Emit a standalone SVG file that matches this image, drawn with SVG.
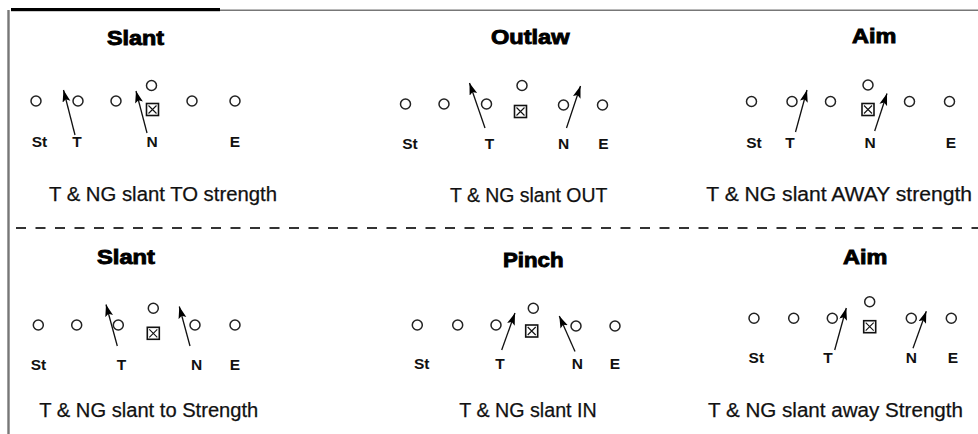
<svg xmlns="http://www.w3.org/2000/svg" width="978" height="434" viewBox="0 0 978 434">
  <style>
    .title { font-family: "Liberation Sans", Arial, sans-serif; font-weight: bold; font-size: 20px; fill: #000; stroke: #000; stroke-width: 0.9; }
    .pos { font-family: "Liberation Sans", Arial, sans-serif; font-weight: bold; font-size: 15.5px; fill: #111; text-anchor: middle; }
    .cap { font-family: "Liberation Sans", Arial, sans-serif; font-size: 20px; fill: #111; stroke: #111; stroke-width: 0.25; }
    .man { fill: #fff; stroke: #222; stroke-width: 1.5; }
    .ctr { fill: #fff; stroke: #111; stroke-width: 1.6; }
    .ctrx { stroke: #111; stroke-width: 1.1; }
    .move { fill: none; stroke: #111; stroke-width: 1.3; marker-end: url(#head); }
  </style>
  <defs>
    <marker id="head" markerUnits="userSpaceOnUse" markerWidth="13" markerHeight="9" refX="12" refY="4" orient="auto">
      <path d="M0,0 L12,4 L0,8 L2.5,4 z" fill="#000"/>
    </marker>
    <circle id="o" r="5" class="man"/>
    <g id="box">
      <rect x="-6" y="-6" width="12" height="12" class="ctr"/>
      <path d="M-4,-4 L4,4 M4,-4 L-4,4" class="ctrx"/>
    </g>
  </defs>

  <!-- page frame -->
  <g id="frame">
    <line x1="220" y1="10.3" x2="978" y2="10.3" stroke="#777" stroke-width="1.6"/>
    <line x1="8.5" y1="10" x2="8.5" y2="434" stroke="#777" stroke-width="2.4"/>
    <rect x="11" y="8" width="209" height="3.2" fill="#000"/>
    <line x1="16" y1="228" x2="978" y2="228" stroke="#333" stroke-width="2" stroke-dasharray="10 9.5"/>
  </g>

  <!-- top-left: Slant -->
  <g id="slant-top">
    <text class="title" x="107" y="44.5" textLength="57" lengthAdjust="spacingAndGlyphs">Slant</text>
    <g id="slant-top-line">
      <use href="#o" x="36" y="101"/>
      <use href="#o" x="78" y="101"/>
      <use href="#o" x="116" y="101"/>
      <use href="#o" x="151.5" y="85.5"/>
      <use href="#box" x="152.5" y="109.5"/>
      <use href="#o" x="192" y="101"/>
      <use href="#o" x="235" y="101"/>
    </g>
    <text class="pos" x="39.5" y="147">St</text>
    <text class="pos" x="77" y="147">T</text>
    <text class="pos" x="152" y="147">N</text>
    <text class="pos" x="235" y="147">E</text>
    <text class="cap" x="49" y="201" textLength="228" lengthAdjust="spacingAndGlyphs">T &amp; NG slant TO strength</text>
  </g>

  <!-- top-middle: Outlaw -->
  <g id="outlaw">
    <text class="title" x="491" y="43.5" textLength="78.5" lengthAdjust="spacingAndGlyphs">Outlaw</text>
    <g id="outlaw-line">
      <use href="#o" x="405.5" y="104"/>
      <use href="#o" x="444" y="104"/>
      <use href="#o" x="486.5" y="104"/>
      <use href="#o" x="522" y="85.5"/>
      <use href="#box" x="520.5" y="111.5"/>
      <use href="#o" x="563.5" y="105"/>
      <use href="#o" x="602.5" y="105"/>
    </g>
    <text class="pos" x="410" y="148.5">St</text>
    <text class="pos" x="489.5" y="148.5">T</text>
    <text class="pos" x="563.5" y="148.5">N</text>
    <text class="pos" x="603.5" y="148.5">E</text>
    <text class="cap" x="450" y="201.5" textLength="157.3" lengthAdjust="spacingAndGlyphs">T &amp; NG slant OUT</text>
  </g>

  <!-- top-right: Aim -->
  <g id="aim-top">
    <text class="title" x="852" y="43" textLength="44.3" lengthAdjust="spacingAndGlyphs">Aim</text>
    <g id="aim-top-line">
      <use href="#o" x="751.5" y="101.5"/>
      <use href="#o" x="792" y="101.5"/>
      <use href="#o" x="830.5" y="101.5"/>
      <use href="#o" x="868" y="85"/>
      <use href="#box" x="868" y="109.5"/>
      <use href="#o" x="909.5" y="101.5"/>
      <use href="#o" x="949.5" y="101.5"/>
    </g>
    <text class="pos" x="754" y="147.5">St</text>
    <text class="pos" x="790" y="147.5">T</text>
    <text class="pos" x="870" y="147.5">N</text>
    <text class="pos" x="951" y="147.5">E</text>
    <text class="cap" x="706.3" y="201" textLength="265.7" lengthAdjust="spacingAndGlyphs">T &amp; NG slant AWAY strength</text>
  </g>

  <!-- bottom-left: Slant -->
  <g id="slant-bottom">
    <text class="title" x="97" y="264.3" textLength="58" lengthAdjust="spacingAndGlyphs">Slant</text>
    <g id="slant-bottom-line">
      <use href="#o" x="38.3" y="325"/>
      <use href="#o" x="76.7" y="325"/>
      <use href="#o" x="118.3" y="325"/>
      <use href="#o" x="153.3" y="308.3"/>
      <use href="#box" x="153.3" y="333.3"/>
      <use href="#o" x="195" y="325"/>
      <use href="#o" x="235" y="325"/>
    </g>
    <text class="pos" x="38.5" y="369.5">St</text>
    <text class="pos" x="121.5" y="369.5">T</text>
    <text class="pos" x="196.5" y="369.5">N</text>
    <text class="pos" x="235" y="369.5">E</text>
    <text class="cap" x="39.3" y="416.7" textLength="219" lengthAdjust="spacingAndGlyphs">T &amp; NG slant to Strength</text>
  </g>

  <!-- bottom-middle: Pinch -->
  <g id="pinch">
    <text class="title" x="503" y="266.5" textLength="60.5" lengthAdjust="spacingAndGlyphs">Pinch</text>
    <g id="pinch-line">
      <use href="#o" x="417.3" y="325"/>
      <use href="#o" x="457.7" y="325"/>
      <use href="#o" x="496" y="325"/>
      <use href="#o" x="533.3" y="308.3"/>
      <use href="#box" x="531.7" y="331"/>
      <use href="#o" x="576" y="326"/>
      <use href="#o" x="615" y="326"/>
    </g>
    <text class="pos" x="421.7" y="369.3">St</text>
    <text class="pos" x="500" y="369.3">T</text>
    <text class="pos" x="577.3" y="369.3">N</text>
    <text class="pos" x="615" y="369.3">E</text>
    <text class="cap" x="459.3" y="416.7" textLength="137.4" lengthAdjust="spacingAndGlyphs">T &amp; NG slant IN</text>
  </g>

  <!-- bottom-right: Aim -->
  <g id="aim-bottom">
    <text class="title" x="843" y="264.3" textLength="44.3" lengthAdjust="spacingAndGlyphs">Aim</text>
    <g id="aim-bottom-line">
      <use href="#o" x="754" y="318.3"/>
      <use href="#o" x="793.7" y="318.3"/>
      <use href="#o" x="832.3" y="318.3"/>
      <use href="#o" x="869.7" y="301.7"/>
      <use href="#box" x="869.7" y="326.7"/>
      <use href="#o" x="911.3" y="318.3"/>
      <use href="#o" x="951.3" y="318.3"/>
    </g>
    <text class="pos" x="756.3" y="363.3">St</text>
    <text class="pos" x="828" y="363.3">T</text>
    <text class="pos" x="911.3" y="363.3">N</text>
    <text class="pos" x="953" y="363.3">E</text>
    <text class="cap" x="708" y="416.7" textLength="255" lengthAdjust="spacingAndGlyphs">T &amp; NG slant away Strength</text>
  </g>

  <!-- slant arrows for tackle and nose guard -->
  <g id="moves">
    <line class="move" x1="75" y1="135" x2="63.5" y2="90"/>
    <line class="move" x1="147" y1="133" x2="136" y2="91"/>
    <line class="move" x1="485" y1="128" x2="469.5" y2="83"/>
    <line class="move" x1="566.5" y1="128" x2="580.5" y2="86"/>
    <line class="move" x1="795.5" y1="132" x2="807" y2="90"/>
    <line class="move" x1="874.7" y1="131" x2="887" y2="93.5"/>
    <line class="move" x1="117.3" y1="346" x2="106" y2="304.5"/>
    <line class="move" x1="190" y1="346" x2="179.3" y2="306.5"/>
    <line class="move" x1="501.7" y1="350" x2="515" y2="313"/>
    <line class="move" x1="575" y1="351.5" x2="559.3" y2="316"/>
    <line class="move" x1="834.7" y1="350" x2="846.3" y2="308"/>
    <line class="move" x1="913" y1="348.3" x2="926.3" y2="311.2"/>
  </g>
</svg>
